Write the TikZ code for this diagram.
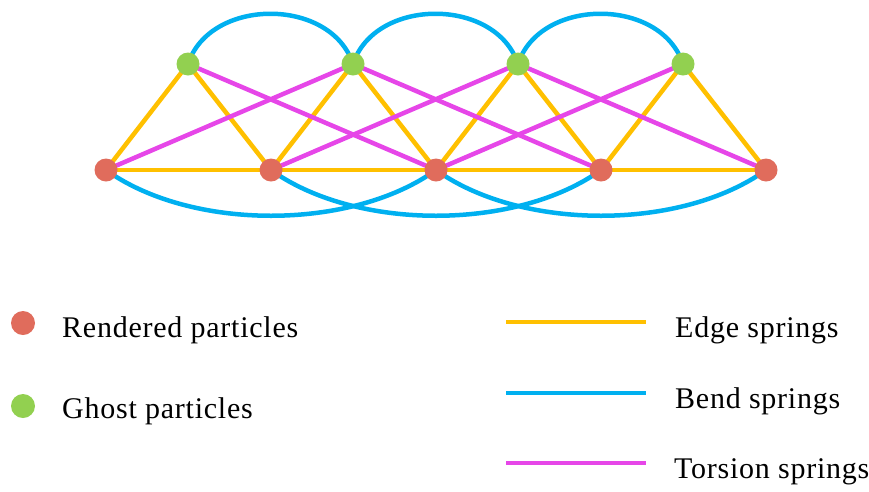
\documentclass[tikz,border=0pt]{standalone}
\usepackage{fontspec}
\setmainfont{Liberation Serif}[LetterSpace=2.5]
\definecolor{edgec}{RGB}{255,192,0}
\definecolor{bendc}{RGB}{0,176,240}
\definecolor{torc}{RGB}{230,70,232}
\definecolor{redp}{RGB}{224,108,92}
\definecolor{greenp}{RGB}{146,208,80}
\begin{document}
\begin{tikzpicture}[x=1pt,y=-1pt,
  spring/.style={line width=4.5pt},
  edgesp/.style={spring,draw=edgec},
  bendsp/.style={spring,draw=bendc},
  torsp/.style={spring,draw=torc},
  rdot/.style={circle,fill=redp,inner sep=0pt,minimum size=23pt},
  gdot/.style={circle,fill=greenp,inner sep=0pt,minimum size=23pt},
  lab/.style={anchor=base west,inner sep=0pt,font=\fontsize{30}{35}\selectfont}]
\useasboundingbox (0,0) rectangle (869,491);
% particles (coordinates first)
\coordinate (r0) at (106,170);
\coordinate (r1) at (271,170);
\coordinate (r2) at (436,170);
\coordinate (r3) at (601,170);
\coordinate (r4) at (766,170);
\coordinate (g0) at (188,64);
\coordinate (g1) at (353,64);
\coordinate (g2) at (518,64);
\coordinate (g3) at (683,64);
% bend springs
\foreach \a/\b in {g0/g1,g1/g2,g2/g3}
  \draw[bendsp] (\a) .. controls +(22,-67) and +(-22,-67) .. (\b);
\foreach \a/\b in {r0/r2,r1/r3,r2/r4}
  \draw[bendsp] (\a) .. controls +(85,61) and +(-85,61) .. (\b);
% edge springs
\draw[edgesp] (r0) -- (r4);
\foreach \r/\g/\s in {r0/g0/r1,r1/g1/r2,r2/g2/r3,r3/g3/r4}
  \draw[edgesp] (\r) -- (\g) -- (\s);
% torsion springs
\foreach \a/\b in {r0/g1,r1/g2,r2/g3,g0/r2,g1/r3,g2/r4}
  \draw[torsp] (\a) -- (\b);
% particle dots
\foreach \n in {r0,r1,r2,r3,r4} \node[rdot] (n\n) at (\n) {};
\foreach \n in {g0,g1,g2,g3} \node[gdot] (n\n) at (\n) {};
% legend
\node[rdot,minimum size=24pt] (lr) at (23,323) {};
\node[lab] (tr) at (62,337) {Rendered particles};
\node[gdot,minimum size=24pt] (lg) at (23,406) {};
\node[lab] (tg) at (62,418) {Ghost particles};
\coordinate (e1) at (506,322); \coordinate (e2) at (646,322);
\draw[edgesp] (e1) -- (e2);
\node[lab] (te) at (675,337) {Edge springs};
\coordinate (b1) at (506,393); \coordinate (b2) at (646,393);
\draw[bendsp] (b1) -- (b2);
\node[lab] (tb) at (675,408) {Bend springs};
\coordinate (t1) at (506,463); \coordinate (t2) at (646,463);
\draw[torsp] (t1) -- (t2);
\node[lab] (tt) at (674,478) {Torsion springs};
\end{tikzpicture}
\end{document}
